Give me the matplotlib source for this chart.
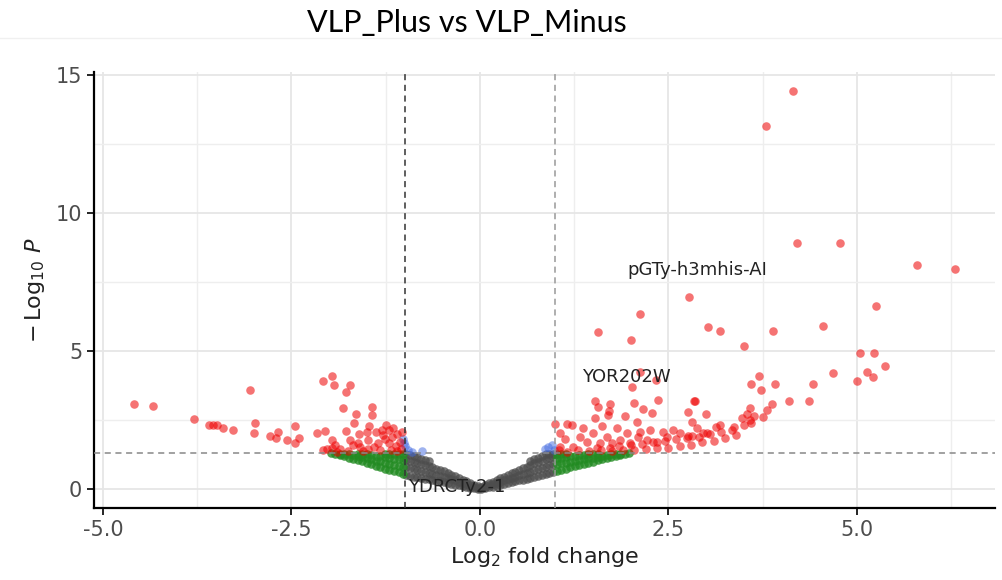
import matplotlib
matplotlib.use("Agg")
import matplotlib.pyplot as plt
from matplotlib.lines import Line2D

# --- red: p-value & log2FC significant ---
red_x = [-4.59, -4.34, -3.79, -3.59, -3.54, -3.49, -3.41, -3.28, -3.05, -2.98, -3.00,
         -2.79, -2.68, -2.71, -2.56, -2.40, -2.45, -2.45, -2.16, -2.06, -1.96,
         -2.08, -1.96, -1.94, -1.72, -1.78, -1.82, -1.64, -1.43, -1.43, -1.67, -1.47,
         -1.78, -1.72, -1.60, -1.49, -1.38, -1.29, -1.26, -1.17, -1.10, -1.21, -1.35,
         -1.68, -1.59, -1.49, -1.33, -1.96, -2.03, -2.08, -1.92, -1.15, -1.25, -1.20,
         -1.30, -1.06, -1.12, -1.05, -1.18, -1.40, -1.55, -1.75, -1.85, -1.62, -1.90,
         -1.10, -1.03, -1.50,
         4.15, 3.79, 4.20, 4.77, 5.80, 6.30, 2.77, 5.25, 2.12, 1.56, 2.00, 3.02, 3.19,
         3.89, 4.55, 3.50, 5.04, 5.23, 5.37, 4.69, 5.00, 5.13, 5.21,
         3.70, 3.59, 3.73, 3.91, 4.42, 4.10, 4.36, 2.85, 3.00, 3.58, 3.87, 3.81, 3.75,
         3.63, 3.54, 3.47, 3.59, 3.37, 3.18, 3.13, 3.01, 2.96, 2.81, 2.88, 2.81,
         2.12, 2.33, 2.02, 2.36, 2.84, 1.53, 1.57, 1.72, 1.71, 1.70, 2.04, 2.16, 2.28,
         1.92, 2.08, 1.53, 2.76, 0.99, 1.15, 1.22, 1.37, 1.62, 1.82, 1.06, 1.13, 1.33,
         1.50, 1.68, 1.95, 2.12, 2.25, 2.43, 2.56, 2.65, 2.76, 1.23, 1.42, 1.59, 1.75,
         1.86, 1.99, 2.10, 2.21, 2.35, 2.48, 1.55, 1.72, 1.06, 3.50, 3.58,
         1.05, 1.15, 1.30, 1.45, 1.60, 1.75, 1.90, 2.05, 2.20, 2.35, 2.50, 2.65, 2.80,
         2.95, 3.10, 3.25, 3.40, 1.85, 2.00, 2.15, 2.30, 2.45, 2.60, 2.75, 2.90, 3.05,
         3.20, 3.35]
red_y = [3.08, 3.01, 2.54, 2.32, 2.32, 2.32, 2.21, 2.14, 3.59, 2.39, 2.03,
         1.92, 2.07, 1.85, 1.78, 1.85, 1.67, 2.28, 2.03, 2.10, 1.78,
         3.91, 4.09, 3.77, 3.77, 3.51, 2.93, 2.72, 2.97, 2.68, 2.39, 2.28,
         2.10, 1.78, 1.99, 1.78, 2.07, 1.96, 1.81, 1.88, 1.99, 1.67, 1.67,
         1.59, 1.52, 1.45, 1.41, 1.48, 1.45, 1.41, 1.59, 2.20, 2.30, 2.15,
         2.15, 1.70, 1.55, 1.45, 1.42, 1.52, 1.38, 1.38, 1.45, 1.65, 1.35,
         1.38, 2.05, 2.05,
         14.42, 13.15, 8.91, 8.91, 8.12, 7.97, 6.96, 6.63, 6.32, 5.70, 5.38, 5.87, 5.72,
         5.72, 5.90, 5.18, 4.93, 4.93, 4.46, 4.20, 3.91, 4.24, 4.06,
         4.09, 3.80, 3.59, 3.80, 3.80, 3.19, 3.19, 3.19, 2.72, 2.93, 3.08, 2.86, 2.61,
         2.64, 2.72, 2.57, 2.39, 2.25, 2.32, 2.25, 2.03, 2.03, 2.43, 2.21, 1.92,
         4.24, 3.95, 3.70, 3.22, 3.19, 3.19, 2.97, 3.08, 2.83, 2.68, 3.12, 2.90, 2.75,
         2.64, 2.43, 2.57, 2.79, 2.36, 2.36, 2.32, 2.21, 2.28, 2.21, 2.03, 1.81, 1.88,
         2.03, 1.88, 2.03, 2.07, 2.14, 2.07, 2.14, 2.03, 1.92, 1.52, 1.70, 1.67, 1.67,
         1.78, 1.67, 1.88, 1.78, 1.70, 1.88, 1.48, 1.48, 1.52, 2.32, 2.50,
         1.40, 1.35, 1.42, 1.38, 1.40, 1.38, 1.42, 1.40, 1.45, 1.50, 1.50, 1.55, 1.60,
         1.70, 1.75, 1.85, 1.95, 1.55, 1.60, 1.62, 1.72, 1.75, 1.80, 1.85, 1.90, 2.00,
         2.05, 2.15]

# --- blue: p-value only ---
blue_x = [-1.02, -1.01, -0.99, -0.95, -0.77, -0.90, 0.86, 0.90, 0.95, 0.98]
blue_y = [1.81, 1.67, 1.55, 1.42, 1.38, 1.35, 1.45, 1.52, 1.59, 1.40]

# --- green: log2FC only ---
green_x = [-1.02, -1.02, -1.02, -1.02, -1.08, -1.08, -1.08, -1.08, -1.14, -1.14, -1.14, -1.14,
           -1.20, -1.20, -1.20, -1.20, -1.26, -1.26, -1.26, -1.26, -1.32, -1.32, -1.32,
           -1.38, -1.38, -1.38, -1.44, -1.44, -1.44, -1.50, -1.50, -1.50, -1.56, -1.56, -1.56,
           -1.62, -1.62, -1.62, -1.68, -1.68, -1.74, -1.74, -1.80, -1.80, -1.86, -1.86,
           -1.92, -1.98,
           1.02, 1.02, 1.02, 1.02, 1.08, 1.08, 1.08, 1.08, 1.14, 1.14, 1.14, 1.14,
           1.20, 1.20, 1.20, 1.26, 1.26, 1.26, 1.32, 1.32, 1.32, 1.38, 1.38, 1.38,
           1.44, 1.44, 1.44, 1.50, 1.50, 1.50, 1.56, 1.56, 1.56, 1.62, 1.62, 1.68, 1.68,
           1.74, 1.74, 1.80, 1.80, 1.86, 1.86, 1.92, 1.98]
green_y = [0.55, 0.80, 1.05, 1.25, 0.60, 0.85, 1.08, 1.26, 0.65, 0.88, 1.10, 1.27,
           0.70, 0.92, 1.12, 1.27, 0.74, 0.95, 1.15, 1.28, 0.80, 1.00, 1.18,
           0.84, 1.03, 1.20, 0.90, 1.08, 1.24, 0.95, 1.12, 1.26, 1.00, 1.15, 1.27,
           1.05, 1.18, 1.28, 1.10, 1.22, 1.14, 1.25, 1.19, 1.27, 1.23, 1.28,
           1.26, 1.29,
           0.66, 0.90, 1.12, 1.27, 0.70, 0.93, 1.14, 1.28, 0.74, 0.96, 1.16, 1.28,
           0.78, 0.99, 1.18, 0.83, 1.02, 1.20, 0.87, 1.05, 1.22, 0.91, 1.08, 1.24,
           0.95, 1.11, 1.26, 0.99, 1.14, 1.27, 1.04, 1.17, 1.28, 1.08, 1.20, 1.12, 1.23,
           1.16, 1.25, 1.20, 1.27, 1.24, 1.28, 1.27, 1.29]

# --- grey: not significant ---
grey_x = [-0.98, -0.98, -0.98, -0.98, -0.93, -0.93, -0.93, -0.93, -0.88, -0.88, -0.88, -0.88,
          -0.83, -0.83, -0.83, -0.83, -0.78, -0.78, -0.78, -0.78, -0.73, -0.73, -0.73, -0.73,
          -0.68, -0.68, -0.68, -0.68, -0.63, -0.63, -0.63, -0.58, -0.58, -0.58,
          -0.53, -0.53, -0.53, -0.48, -0.48, -0.48, -0.43, -0.43, -0.43, -0.38, -0.38, -0.38,
          -0.33, -0.33, -0.33, -0.28, -0.28, -0.28, -0.23, -0.23, -0.23, -0.18, -0.18, -0.18,
          -0.13, -0.13, -0.13, -0.08, -0.08, -0.08, -0.03, -0.03, -0.03,
          0.02, 0.02, 0.02, 0.07, 0.07, 0.07, 0.12, 0.12, 0.12, 0.17, 0.17, 0.17,
          0.22, 0.22, 0.22, 0.27, 0.27, 0.27, 0.32, 0.32, 0.32, 0.37, 0.37, 0.37,
          0.42, 0.42, 0.42, 0.47, 0.47, 0.47, 0.52, 0.52, 0.52, 0.57, 0.57, 0.57,
          0.62, 0.62, 0.62, 0.67, 0.67, 0.67, 0.67, 0.72, 0.72, 0.72, 0.72,
          0.77, 0.77, 0.77, 0.77, 0.82, 0.82, 0.82, 0.82, 0.87, 0.87, 0.87, 0.87,
          0.92, 0.92, 0.92, 0.92, 0.97, 0.97, 0.97, 0.97]
grey_y = [0.50, 0.80, 1.05, 1.25, 0.48, 0.75, 1.00, 1.22, 0.45, 0.72, 0.98, 1.18,
          0.43, 0.70, 0.95, 1.15, 0.40, 0.66, 0.90, 1.10, 0.38, 0.62, 0.86, 1.05,
          0.35, 0.58, 0.82, 1.00, 0.33, 0.55, 0.78, 0.30, 0.52, 0.74,
          0.28, 0.48, 0.70, 0.25, 0.44, 0.64, 0.22, 0.40, 0.58, 0.19, 0.36, 0.52,
          0.16, 0.31, 0.46, 0.13, 0.27, 0.40, 0.10, 0.22, 0.34, 0.07, 0.17, 0.28,
          0.05, 0.13, 0.22, 0.03, 0.09, 0.16, 0.01, 0.05, 0.10,
          0.01, 0.05, 0.09, 0.03, 0.09, 0.15, 0.06, 0.13, 0.21, 0.09, 0.18, 0.27,
          0.12, 0.22, 0.33, 0.15, 0.27, 0.39, 0.19, 0.31, 0.45, 0.22, 0.36, 0.51,
          0.25, 0.40, 0.57, 0.28, 0.45, 0.63, 0.31, 0.50, 0.69, 0.34, 0.54, 0.75,
          0.38, 0.59, 0.81, 0.41, 0.63, 0.87, 1.02, 0.44, 0.68, 0.93, 1.08,
          0.47, 0.72, 0.98, 1.14, 0.50, 0.77, 1.03, 1.20, 0.53, 0.81, 1.08, 1.25,
          0.57, 0.86, 1.12, 1.27, 0.60, 0.90, 1.15, 1.28]

# gene labels
label_names = ["pGTy-h3mhis-AI", "YOR202W", "YDRCTy2-1"]
label_x = [1.95, 1.35, -0.95]
label_y = [7.93, 4.06, 0.07]

fc_cut = 1.0
p_cut = 1.3

fig = plt.figure(figsize=(10.02, 5.80), dpi=100)
ax = fig.add_axes([0.0938, 0.124, 0.899, 0.752])

# grid (major + minor like ggplot)
for gx in [-5, -2.5, 0, 2.5, 5]:
    ax.axvline(gx, color="#e6e6e6", lw=1.3, zorder=0)
for gx in [-3.75, -1.25, 1.25, 3.75, 6.25]:
    ax.axvline(gx, color="#eeeeee", lw=1.0, zorder=0)
for gy in [0, 5, 10, 15]:
    ax.axhline(gy, color="#e6e6e6", lw=1.3, zorder=0)
for gy in [2.5, 7.5, 12.5]:
    ax.axhline(gy, color="#eeeeee", lw=1.0, zorder=0)

ms = 38
ax.scatter(grey_x, grey_y, s=ms, color="#4d4d4d", alpha=0.75, lw=0, zorder=2)
ax.scatter(green_x, green_y, s=ms, color="#228b22", alpha=0.8, lw=0, zorder=2)
ax.scatter(blue_x, blue_y, s=ms, color="#4169e1", alpha=0.5, lw=0, zorder=2)
ax.scatter(red_x, red_y, s=ms, color="#ee0000", alpha=0.55, lw=0, zorder=3)

ax.axvline(-fc_cut, color="#333333", ls=(0, (4, 3)), lw=1.1, zorder=4)
ax.axvline(fc_cut, color="#999999", ls=(0, (4, 3)), lw=1.1, zorder=4)
ax.axhline(p_cut, color="#888888", ls=(0, (4, 3)), lw=1.1, zorder=4)

for name, lx, ly in zip(label_names, label_x, label_y):
    ax.text(lx, ly, name, fontsize=13, color="#222222", va="center", ha="left", zorder=5)

ax.set_xlim(-5.12, 6.83)
ax.set_ylim(-0.69, 15.1)
ax.set_xticks([-5, -2.5, 0, 2.5, 5])
ax.set_xticklabels(["-5.0", "-2.5", "0.0", "2.5", "5.0"])
ax.set_yticks([0, 5, 10, 15])
ax.tick_params(axis="both", labelsize=15, labelcolor="#4d4d4d", color="black",
               length=5, width=1.2, direction="out")

for side in ["top", "right"]:
    ax.spines[side].set_visible(False)
for side in ["left", "bottom"]:
    ax.spines[side].set_linewidth(1.6)

ax.set_xlabel(r"$\mathrm{Log}_{2}$ fold change", fontsize=16, color="#222222", labelpad=4)
ax.set_ylabel(r"$-\,\mathrm{Log}_{10}\ \mathit{P}$", fontsize=16, color="#222222", labelpad=6)

fig.text(0.466, 0.960, "VLP_Plus vs VLP_Minus", fontsize=22, ha="center", va="center",
         family="Lato", color="black")
fig.add_artist(Line2D([0.0, 1.0], [0.934, 0.934], color="#f0f0f0", lw=1.0))

fig.savefig("out.png", dpi=100, facecolor="white")
